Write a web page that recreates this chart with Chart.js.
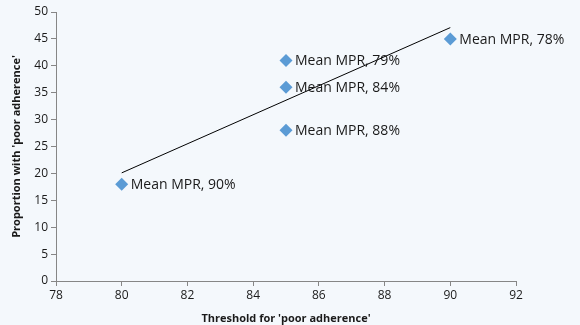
<!DOCTYPE html>
<html>
<head>
<meta charset="utf-8">
<script src="https://cdn.jsdelivr.net/npm/chart.js@4"></script>
<style>
  html, body { margin: 0; padding: 0; background: #f4f8fc; }
  #wrap { width: 580px; height: 325px; }
</style>
</head>
<body>
<div id="wrap"><canvas id="chart" width="580" height="325"></canvas></div>
<script>
// thresholds and proportions
const thresholds = [80, 85, 85, 85, 90];
const proportions = [18, 41, 36, 28, 45];
const pointLabels = ['Mean MPR, 90%', 'Mean MPR, 79%', 'Mean MPR, 84%', 'Mean MPR, 88%', 'Mean MPR, 78%'];

// linear trend line end points
const trendX = [80, 90];
const trendY = [20.1, 47.1];

const xTicks = [78, 80, 82, 84, 86, 88, 90, 92];
const yTicks = [0, 5, 10, 15, 20, 25, 30, 35, 40, 45, 50];

const labelPlugin = {
    id: 'pointLabels',
    afterDatasetsDraw(chart) {
        const ctx = chart.ctx;
        const meta = chart.getDatasetMeta(1);
        ctx.save();
        ctx.font = '14px "Open Sans"';
        ctx.fillStyle = '#1a1a1a';
        ctx.textBaseline = 'middle';
        meta.data.forEach((pt, i) => {
            ctx.fillText(pointLabels[i], pt.x + 9, pt.y + 1);
        });
        ctx.restore();
    }
};

const graph = document.getElementById('chart').getContext('2d');

new Chart(graph, {
    type: 'scatter',
    data: {
        datasets: [{
            type: 'line',
            data: trendX.map((x, i) => ({ x: x, y: trendY[i] })),
            borderColor: '#000000',
            borderWidth: 1,
            pointRadius: 0,
            fill: false
        }, {
            data: thresholds.map((x, i) => ({ x: x, y: proportions[i] })),
            pointStyle: 'rectRot',
            pointRadius: 6.5,
            backgroundColor: '#5b9bd5',
            borderColor: '#5b9bd5',
            borderWidth: 0
        }]
    },
    options: {
        responsive: false,
        animation: false,
        layout: { padding: { top: 12, right: 64, left: 10, bottom: 0 } },
        plugins: {
            legend: { display: false },
            tooltip: { enabled: false }
        },
        scales: {
            x: {
                type: 'linear',
                min: 78,
                max: 92,
                afterBuildTicks: axis => { axis.ticks = xTicks.map(v => ({ value: v })); },
                afterFit: axis => { axis.height = 44; },
                grid: { drawOnChartArea: false, color: '#868686', tickLength: 5 },
                border: { color: '#868686' },
                ticks: { color: '#1a1a1a', font: { family: 'Open Sans', size: 12 }, padding: 2, maxRotation: 0 },
                title: {
                    display: true,
                    text: "Threshold for 'poor adherence'",
                    color: '#1a1a1a',
                    font: { family: 'Open Sans', size: 11, weight: 'bold' },
                    padding: { top: 0, bottom: 0 }
                }
            },
            y: {
                min: 0,
                max: 50,
                afterBuildTicks: axis => { axis.ticks = yTicks.map(v => ({ value: v })); },
                afterFit: axis => { axis.width = 46; },
                grid: { drawOnChartArea: false, color: '#868686', tickLength: 5 },
                border: { color: '#868686' },
                ticks: { color: '#1a1a1a', font: { family: 'Open Sans', size: 12 }, padding: 3 },
                title: {
                    display: true,
                    text: "Proportion with 'poor adherence'",
                    color: '#1a1a1a',
                    font: { family: 'Open Sans', size: 11, weight: 'bold' },
                    padding: { top: 0, bottom: 4 }
                }
            }
        }
    },
    plugins: [labelPlugin]
});
</script>
</body>
</html>
